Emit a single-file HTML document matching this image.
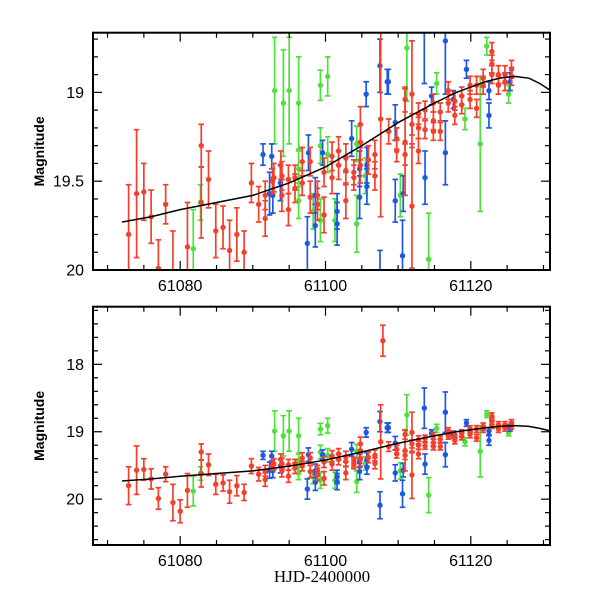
<!DOCTYPE html>
<html><head><meta charset="utf-8"><style>
html,body{margin:0;padding:0;background:#fff;}
svg{display:block;}
text{font-family:"Liberation Sans",sans-serif;fill:#000;}
</style></head><body>
<svg id="chart" width="600" height="600" viewBox="0 0 600 600" xmlns="http://www.w3.org/2000/svg">
<defs>
<clipPath id="clipTop"><rect x="93" y="32.7" width="457" height="237.3"/></clipPath>
<clipPath id="clipBot"><rect x="93" y="306.7" width="457" height="238.3"/></clipPath>
</defs>
<g id="layer"></g>
</svg>
<script>
// ---- data (HJD - 2461000, magnitude, error) ----
const redDays = [72.9,74.0,75.0,76.0,77.0,78.0,79.0,80.0,81.0,82.9,82.9,83.9,84.9,85.9,86.8,87.8,88.8,89.8,90.8,91.7,91.7,92.7,92.9,93.85,94.0,94.0,94.9,94.9,95.8,95.8,96.8,96.8,97.9,97.9,98.9,98.9,99.8,99.8,100.9,100.9,101.8,101.8,102.8,102.8,102.8,103.9,103.9,104.8,104.8,104.8,105.9,106.8,106.8,107.6,107.9,108.7,109.8,109.8,110.95,110.95,110.95,111.9,111.9,111.9,112.8,112.8,112.8,113.7,113.7,114.85,114.85,114.85,115.8,115.8,116.9,116.9,117.8,117.8,118.75,118.75,119.9,119.9,120.8,120.8,121.7,121.7,122.9,122.9,122.9,123.8,123.8,124.7,124.7,125.6,125.6];
const redMags = [19.80,19.57,19.56,19.70,19.99,19.63,20.05,20.18,19.87,19.30,19.62,19.49,19.78,19.76,19.89,19.80,19.90,19.51,19.63,19.58,19.71,19.50,19.48,19.41,19.47,19.58,19.49,19.66,19.48,19.54,19.51,19.39,19.39,19.59,19.58,19.63,19.69,19.45,19.36,19.48,19.33,19.41,19.37,19.44,19.61,19.45,19.48,19.18,19.28,19.41,19.38,19.35,19.47,19.15,17.65,19.22,19.26,19.33,19.28,19.35,19.04,19.01,19.64,19.18,19.12,19.20,19.33,19.10,19.21,19.06,19.16,19.22,19.11,19.22,18.99,19.06,19.05,19.13,19.02,19.07,18.96,19.04,18.96,19.09,18.92,18.96,18.77,18.84,18.90,18.90,18.96,18.90,18.94,18.87,18.91];
const redErrs = [0.28,0.36,0.16,0.15,0.16,0.11,0.27,0.17,0.25,0.12,0.2,0.16,0.15,0.12,0.17,0.15,0.12,0.11,0.10,0.08,0.10,0.07,0.08,0.08,0.08,0.09,0.08,0.09,0.07,0.08,0.07,0.08,0.08,0.09,0.08,0.09,0.1,0.08,0.08,0.09,0.08,0.08,0.08,0.08,0.1,0.07,0.07,0.1,0.1,0.1,0.08,0.08,0.08,0.55,0.23,0.07,0.06,0.06,0.3,0.06,0.07,0.3,0.35,0.06,0.06,0.06,0.07,0.05,0.05,0.05,0.05,0.05,0.05,0.05,0.05,0.05,0.05,0.05,0.05,0.05,0.05,0.05,0.05,0.05,0.05,0.05,0.05,0.05,0.05,0.05,0.05,0.05,0.05,0.05,0.05];
const greenDays = [81.8,82.8,93.0,95.0,94.2,96.3,99.3,100.3,96.3,96.3,98.3,99.3,99.3,100.3,101.3,104.3,104.3,105.5,111.2,110.3,114.2,115.3,119.2,121.3,122.2,125.2];
const greenMags = [19.88,19.62,18.99,18.99,19.06,19.06,18.96,18.91,19.43,19.61,19.67,19.30,19.72,19.35,19.72,19.74,19.29,19.47,18.75,19.58,19.94,18.95,19.15,19.29,18.74,19.01];
const greenErrs = [0.22,0.1,0.3,0.3,0.3,0.26,0.085,0.11,0.1,0.1,0.1,0.1,0.12,0.1,0.12,0.16,0.1,0.1,0.3,0.12,0.26,0.06,0.06,0.38,0.05,0.05];
const blueDays = [91.4,92.3,92.6,92.75,93.8,97.5,97.65,98.6,98.6,99.6,101.6,101.6,103.6,104.7,104.7,105.6,105.7,105.7,107.5,107.5,108.5,108.65,109.6,109.6,110.6,110.7,113.6,113.7,114.6,116.5,116.5,117.6,119.4,122.5,122.5,125.4];
const blueMags = [19.35,19.57,19.36,19.58,19.51,19.85,19.34,19.75,19.58,19.34,19.67,19.74,19.26,19.59,19.43,19.01,19.41,19.53,20.09,18.85,18.94,18.94,19.17,19.61,19.92,19.57,18.65,19.48,19.02,18.71,19.34,19.04,18.87,19.13,18.99,18.94];
const blueErrs = [0.06,0.12,0.07,0.1,0.1,0.15,0.1,0.12,0.1,0.07,0.1,0.12,0.1,0.12,0.1,0.07,0.1,0.1,0.2,0.15,0.07,0.07,0.1,0.12,0.2,0.1,0.3,0.15,0.05,0.3,0.18,0.05,0.05,0.07,0.05,0.05];
const curveDays = [72,76,80,85,90,95,100,105,110,115,118,120,122,124,126,128,129.5,131];
const curveMags = [19.73,19.70,19.66,19.62,19.58,19.51,19.42,19.30,19.17,19.06,19.00,18.97,18.94,18.92,18.91,18.92,18.95,18.99];
const xTickLabels = ["61080","61100","61120"];
const xTickValues = [80,100,120];
const topYTicks = [19,19.5,20];
const topYLabels = ["19","19.5","20"];
const botYTicks = [18,19,20];
const botYLabels = ["18","19","20"];

const NS="http://www.w3.org/2000/svg";
const layer=document.getElementById('layer');
const X0=93,X1=550,D0=68.0,D1=130.9;
function xs(d){return X0+(d-D0)/(D1-D0)*(X1-X0);}
const panels=[
 {name:'top',y0:32.7,y1:270,m0:18.664,m1:20,clip:'clipTop',ticks:topYTicks,labels:topYLabels,minor:0.1},
 {name:'bottom',y0:306.7,y1:545,m0:17.145,m1:20.68,clip:'clipBot',ticks:botYTicks,labels:botYLabels,minor:0.2}
];
function mk(tag,attrs,parent){const e=document.createElementNS(NS,tag);for(const k in attrs)e.setAttribute(k,attrs[k]);(parent||layer).appendChild(e);return e;}
const series=[
 {name:'green',days:greenDays,mags:greenMags,errs:greenErrs,color:'#4fe03c'},
 {name:'blue',days:blueDays,mags:blueMags,errs:blueErrs,color:'#1c58e4'},
 {name:'red',days:redDays,mags:redMags,errs:redErrs,color:'#f2402c'}
];
panels.forEach(p=>{
 const ys=m=>p.y0+(m-p.m0)/(p.m1-p.m0)*(p.y1-p.y0);
 const g=mk('g',{'clip-path':'url(#'+p.clip+')'});
 
 
 series.forEach(s=>{
  const sg=mk('g',{},g);
  
  
  s.days.forEach((d,i)=>{
   const x=xs(d),y=ys(s.mags[i]),ya=ys(s.mags[i]-s.errs[i]),yb=ys(s.mags[i]+s.errs[i]);
   const pt=mk('g',{stroke:s.color,'stroke-width':1.7,fill:s.color},sg);
   
   
   mk('line',{x1:x,x2:x,y1:ya,y2:yb},pt);
   mk('line',{x1:x-2.8,x2:x+2.8,y1:ya,y2:ya},pt);
   mk('line',{x1:x-2.8,x2:x+2.8,y1:yb,y2:yb},pt);
   mk('circle',{cx:x,cy:y,r:2.7,stroke:'none'},pt);
  });
 });
 const pts=curveDays.map((d,i)=>xs(d)+','+ys(curveMags[i])).join(' ');
 const c=mk('polyline',{points:pts,fill:'none',stroke:'#000','stroke-width':1.5},g);
 
 
 const fr=mk('rect',{x:X0,y:p.y0,width:X1-X0,height:p.y1-p.y0,fill:'none',stroke:'#000','stroke-width':2});
 
 
 const tg=mk('g',{stroke:'#000','stroke-width':1.2});
 
 
 for(let d=70;d<=130;d+=5){const x=xs(d);const L=(d%20===0)?9:5;
  mk('line',{x1:x,x2:x,y1:p.y1,y2:p.y1-L},tg);mk('line',{x1:x,x2:x,y1:p.y0,y2:p.y0+L},tg);}
 const mStart=Math.ceil(p.m0/p.minor-1e-6);
 for(let k=mStart;k*p.minor<=p.m1+1e-6;k++){const m=k*p.minor;const y=ys(m);
  const major=p.ticks.some(t=>Math.abs(t-m)<1e-6);const L=major?9:5;
  mk('line',{x1:X0,x2:X0+L,y1:y,y2:y},tg);mk('line',{x1:X1,x2:X1-L,y1:y,y2:y},tg);}
 p.ticks.forEach((t,i)=>{
  const tx=mk('text',{x:84,y:ys(t)+5.5,'text-anchor':'end','font-size':16});
  tx.textContent=p.labels[i];
  
  
 });
 xTickValues.forEach((v,i)=>{
  const tx=mk('text',{x:xs(v),y:p.y1+21,'text-anchor':'middle','font-size':16});
  tx.textContent=xTickLabels[i];
  
  
 });
 const yt=mk('text',{x:0,y:0,'text-anchor':'middle','font-size':14,'font-weight':'bold',transform:'translate(44,'+((p.y0+p.y1)/2)+') rotate(-90)'});
 yt.textContent='Magnitude';
 
 
});
const xt=mk('text',{x:322,y:582,'text-anchor':'middle','font-size':17});
xt.setAttribute('style','font-family:"Liberation Serif",serif');
xt.textContent='HJD-2400000';


</script>
</body></html>
